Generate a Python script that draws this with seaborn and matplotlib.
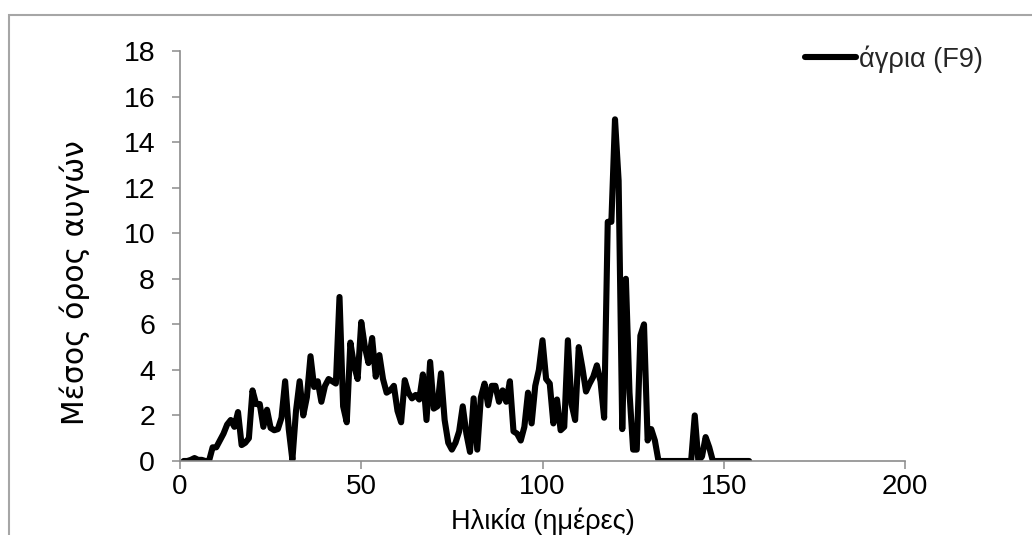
import matplotlib
matplotlib.use("Agg")
import matplotlib.pyplot as plt
from matplotlib.patches import Rectangle
import seaborn as sns
import pandas as pd

# ---- data ----
days = list(range(1, 158))
eggs = [
    0, 0, 0.05, 0.13, 0.05, 0.05, 0, 0, 0.6, 0.6,            # 1-10
    0.9, 1.2, 1.6, 1.8, 1.5, 2.15, 0.7, 0.8, 1.0, 3.1,        # 11-20
    2.5, 2.5, 1.5, 2.25, 1.45, 1.35, 1.4, 1.9, 3.5, 1.4,      # 21-30
    0.05, 2.2, 3.5, 2.0, 2.8, 4.6, 3.25, 3.5, 2.6, 3.3,       # 31-40
    3.6, 3.5, 3.4, 7.2, 2.4, 1.7, 5.2, 4.2, 3.6, 6.1,         # 41-50
    5.0, 4.3, 5.4, 3.7, 4.65, 3.6, 3.0, 3.1, 3.3, 2.2,        # 51-60
    1.7, 3.55, 3.0, 2.75, 2.9, 2.7, 3.8, 1.8, 4.35, 2.3,      # 61-70
    2.4, 3.85, 1.8, 0.8, 0.5, 0.8, 1.3, 2.4, 1.2, 0.4,        # 71-80
    2.75, 0.5, 2.8, 3.4, 2.45, 3.3, 3.3, 2.6, 3.1, 2.6,       # 81-90
    3.5, 1.3, 1.2, 0.9, 1.5, 3.0, 1.65, 3.3, 4.0, 5.3,        # 91-100
    3.6, 3.4, 1.65, 2.7, 1.35, 1.5, 5.3, 2.5, 1.8, 5.0,       # 101-110
    4.1, 3.05, 3.4, 3.7, 4.2, 3.5, 1.9, 10.5, 10.5, 15.0,     # 111-120
    12.3, 1.4, 8.0, 3.0, 0.5, 0.5, 5.5, 6.0, 0.9, 1.4,        # 121-130
    0.9, 0, 0, 0, 0, 0, 0, 0, 0, 0,                           # 131-140
    0, 2.0, 0, 0.2, 1.05, 0.6, 0, 0, 0, 0,                    # 141-150
    0, 0, 0, 0, 0, 0, 0,                                      # 151-157
]
series_label = "άγρια (F9)"
x_label = "Ηλικία (ημέρες)"
y_label = "Μέσος όρος αυγών"
x_ticks = [0, 50, 100, 150, 200]
y_ticks = [0, 2, 4, 6, 8, 10, 12, 14, 16, 18]

df = pd.DataFrame({"day": days, "eggs": eggs})

sns.set_style("white")
plt.rcParams["font.family"] = ["Liberation Sans", "DejaVu Sans"]

fig = plt.figure(figsize=(10.32, 5.35), dpi=100)
ax = fig.add_axes([180 / 1032, 1 - 461 / 535, 725 / 1032, 410 / 535])

sns.lineplot(data=df, x="day", y="eggs", color="black", linewidth=4.4,
             label=series_label, ax=ax, solid_joinstyle="round",
             solid_capstyle="round")

ax.set_xlim(0, 200)
ax.set_ylim(0, 18)
ax.set_xticks(x_ticks)
ax.set_yticks(y_ticks)

gray = "#8c8c8c"
for side in ["top", "right"]:
    ax.spines[side].set_visible(False)
for side in ["left", "bottom"]:
    ax.spines[side].set_color(gray)
    ax.spines[side].set_linewidth(1.2)

ax.tick_params(axis="both", which="major", direction="out", length=6,
               width=1.1, color=gray, labelsize=20.5, labelcolor="black",
               left=True, bottom=True)
ax.tick_params(axis="y", pad=12)
ax.tick_params(axis="x", labelsize=20, pad=3)
ax.patch.set_alpha(0)

ax.set_xlabel(x_label, fontsize=19.5, color="black")
ax.xaxis.set_label_coords(0.5, -0.1793)
ax.xaxis.label.set_va("bottom")

ax.set_ylabel(y_label, fontsize=21.5, color="black",
              fontfamily=["DejaVu Sans"])
ax.yaxis.set_label_coords(-0.145, 0.434)
ax.yaxis.label.set_va("center")

leg = ax.legend(loc="center left", bbox_to_anchor=(805 / 1032, 1 - 59 / 535),
                bbox_transform=fig.transFigure, frameon=False, fontsize=19.5,
                borderpad=0, borderaxespad=0, handlelength=1.9,
                handletextpad=0.08)
for line in leg.get_lines():
    line.set_linewidth(4.4)

fig.add_artist(Rectangle((8.5 / 1032, -0.2), 1.2, 1 - 14.5 / 535 + 0.2,
                         transform=fig.transFigure, fill=False,
                         edgecolor="#a6a6a6", linewidth=1.5))

fig.savefig("out.png", dpi=100, facecolor="white")
